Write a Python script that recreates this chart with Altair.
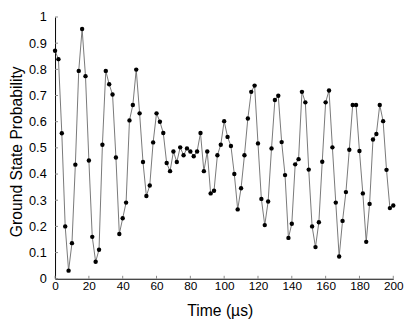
import altair as alt
import pandas as pd

time_us = list(range(0, 201, 2))
probability = [
    0.871, 0.839, 0.556, 0.200, 0.031, 0.136, 0.436, 0.794, 0.954, 0.774,
    0.452, 0.160, 0.065, 0.111, 0.512, 0.794, 0.743, 0.704, 0.463, 0.171,
    0.231, 0.291, 0.605, 0.664, 0.799, 0.632, 0.446, 0.316, 0.356, 0.521,
    0.632, 0.600, 0.557, 0.442, 0.411, 0.486, 0.446, 0.502, 0.472, 0.498,
    0.486, 0.468, 0.486, 0.557, 0.411, 0.486, 0.326, 0.336, 0.472, 0.512,
    0.602, 0.542, 0.507, 0.400, 0.265, 0.346, 0.472, 0.612, 0.714, 0.738,
    0.517, 0.305, 0.205, 0.295, 0.498, 0.683, 0.699, 0.522, 0.396, 0.156,
    0.210, 0.437, 0.457, 0.714, 0.674, 0.417, 0.200, 0.121, 0.216, 0.447,
    0.674, 0.719, 0.502, 0.291, 0.085, 0.221, 0.331, 0.493, 0.664, 0.664,
    0.488, 0.326, 0.141, 0.286, 0.532, 0.553, 0.664, 0.602, 0.416, 0.270,
    0.280,
]
x_ticks = list(range(0, 201, 20))
y_ticks = [round(i * 0.1, 1) for i in range(11)]

W, H = 345, 267
FONT = "Liberation Sans"

df = pd.DataFrame({"t": time_us, "p": probability})
xt = pd.DataFrame({"v": x_ticks})
yt = pd.DataFrame({"v": y_ticks})

xscale = alt.Scale(domain=[0, 200], nice=False, zero=False)
yscale = alt.Scale(domain=[0, 1], nice=False)

xaxis = alt.Axis(
    values=x_ticks, ticks=False, grid=False, domainColor="#000", domainWidth=1,
    labelFont=FONT, labelFontSize=12, labelColor="#000", labelPadding=2,
    title="Time (µs)", titleFont=FONT, titleFontSize=16, titleFontWeight="normal",
    titleColor="#000", titleBaseline="alphabetic", titleY=37, titleX=168,
    labelFlush=False,
)
yaxis = alt.Axis(
    values=y_ticks, ticks=False, grid=False, domainColor="#000", domainWidth=1,
    format=".1~f", labelFont=FONT, labelFontSize=13, labelColor="#000",
    labelPadding=9, labelFlush=False,
    title="Ground State Probability", titleFont=FONT, titleFontSize=16,
    titleFontWeight="normal", titleColor="#000", titleAngle=270,
    titleBaseline="alphabetic", titleX=-34, titleY=137,
)

xenc = lambda f: alt.X(f"{f}:Q", scale=xscale, axis=xaxis)
yenc = lambda f: alt.Y(f"{f}:Q", scale=yscale, axis=yaxis)

base = alt.Chart(df)
line = base.mark_line(color="#777777", strokeWidth=1).encode(
    x=xenc("t"), y=yenc("p"),
)
points = base.mark_circle(color="#000", size=20, opacity=1).encode(
    x=xenc("t"), y=yenc("p"),
)
xtick_layer = alt.Chart(xt).mark_rule(color="#888", strokeWidth=1).encode(
    x=xenc("v"),
    y=alt.value(H),
    y2=alt.value(H - 3),
)
ytick_layer = alt.Chart(yt).mark_rule(color="#888", strokeWidth=1).encode(
    y=yenc("v"),
    x=alt.value(0),
    x2=alt.value(3),
)

chart = alt.layer(line, xtick_layer, ytick_layer, points).properties(
    width=W, height=H,
    autosize=alt.AutoSizeParams(type="none"),
    padding={"left": 48, "top": 6, "right": 14, "bottom": 44},
).configure_view(stroke=None)

chart.save("out.html", embed_options={"renderer": "svg", "actions": False})
